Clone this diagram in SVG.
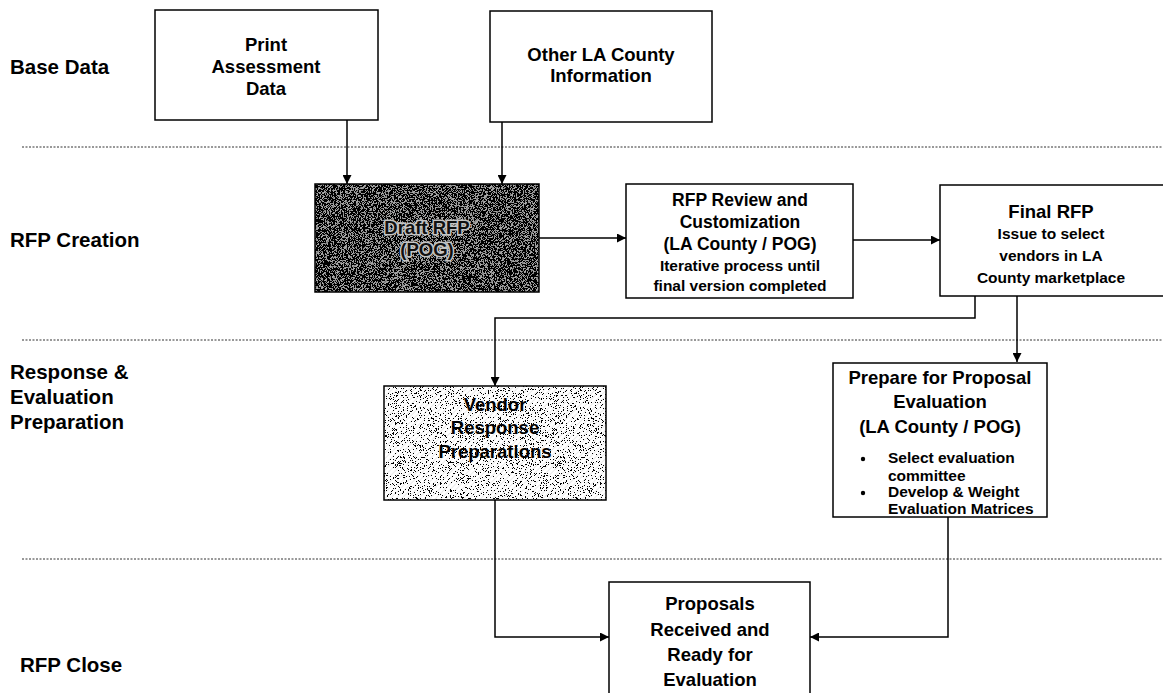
<svg xmlns="http://www.w3.org/2000/svg" width="1163" height="693" viewBox="0 0 1163 693">
<style>
  .box { fill: #ffffff; stroke: #000; stroke-width: 1.5; }
  .t { font-family: "Liberation Sans", Arial, sans-serif; font-weight: bold; fill: #000; text-anchor: middle; }
  .s { text-anchor: start; }
  .lbl { font-family: "Liberation Sans", Arial, sans-serif; font-weight: bold; fill: #000; font-size: 20.5px; }
  .f18 { font-size: 18.5px; }
  .f17 { font-size: 17.5px; }
  .f15 { font-size: 15.5px; }
  .sep { stroke: #333; stroke-width: 1; stroke-dasharray: 2 1.5; fill: none; }
  .con { stroke: #000; stroke-width: 1.5; fill: none; }
  .halo { stroke: #c4c4c4; stroke-width: 3; paint-order: stroke; fill: #111; }
</style>
<defs>
  <marker id="arr" viewBox="0 0 10 10" refX="10" refY="5" markerWidth="9" markerHeight="9" markerUnits="userSpaceOnUse" orient="auto">
    <path d="M0,0 L10,5 L0,10 z" fill="#000"/>
  </marker>
  <pattern id="diagDark" width="3" height="3" patternUnits="userSpaceOnUse" patternTransform="rotate(-45)">
    <rect width="3" height="1.3" fill="#000" opacity="0.35"/>
  </pattern>
  <pattern id="diagLight" width="4" height="4" patternUnits="userSpaceOnUse" patternTransform="rotate(-45)">
    <rect width="4" height="1" fill="#000" opacity="0.08"/>
  </pattern>
  <filter id="speckDark" x="0" y="0" width="1" height="1" color-interpolation-filters="sRGB">
    <feTurbulence type="fractalNoise" baseFrequency="1.4" numOctaves="2" seed="4" result="n"/>
    <feColorMatrix in="n" type="matrix" values="0 0 0 0 0  0 0 0 0 0  0 0 0 0 0  4 0 0 0 -1.45" result="a"/>
    <feComponentTransfer in="a" result="sp"><feFuncA type="discrete" tableValues="0 1"/></feComponentTransfer>
    <feFlood flood-color="#b0b0b0" result="bg"/>
    <feMerge result="m"><feMergeNode in="bg"/><feMergeNode in="sp"/></feMerge>
    <feComposite in="m" in2="SourceGraphic" operator="in"/>
  </filter>
  <filter id="speckLight" x="0" y="0" width="1" height="1" color-interpolation-filters="sRGB">
    <feTurbulence type="fractalNoise" baseFrequency="1.6" numOctaves="2" seed="9" result="n"/>
    <feColorMatrix in="n" type="matrix" values="0 0 0 0 0  0 0 0 0 0  0 0 0 0 0  4 0 0 0 -2.05" result="a"/>
    <feComponentTransfer in="a" result="sp"><feFuncA type="discrete" tableValues="0 1"/></feComponentTransfer>
    <feFlood flood-color="#ffffff" result="bg"/>
    <feMerge result="m"><feMergeNode in="bg"/><feMergeNode in="sp"/></feMerge>
    <feComposite in="m" in2="SourceGraphic" operator="in"/>
  </filter>
</defs>

<rect width="1163" height="693" fill="#fff"/>

<!-- swimlane separators -->
<g id="separators">
  <line class="sep" x1="22" y1="147" x2="1163" y2="147"/>
  <line class="sep" x1="22" y1="340" x2="1163" y2="340"/>
  <line class="sep" x1="22" y1="559" x2="1163" y2="559"/>
</g>

<!-- lane labels -->
<g id="lane-labels">
  <text class="lbl" x="10" y="74">Base Data</text>
  <text class="lbl" x="10" y="247">RFP Creation</text>
  <text class="lbl" x="10" y="379">Response &amp;</text>
  <text class="lbl" x="10" y="404">Evaluation</text>
  <text class="lbl" x="10" y="429">Preparation</text>
  <text class="lbl" x="20" y="672">RFP Close</text>
</g>

<g id="connectors">
  <line class="con" x1="347" y1="120" x2="347" y2="184" marker-end="url(#arr)"/>
  <line class="con" x1="502" y1="122" x2="502" y2="184" marker-end="url(#arr)"/>
  <line class="con" x1="539" y1="238" x2="626" y2="238" marker-end="url(#arr)"/>
  <line class="con" x1="853" y1="240" x2="940" y2="240" marker-end="url(#arr)"/>
  <polyline class="con" points="975,296 975,318 495,318 495,386" marker-end="url(#arr)"/>
  <line class="con" x1="1017" y1="296" x2="1017" y2="362" marker-end="url(#arr)"/>
  <polyline class="con" points="495,500 495,637 609,637" marker-end="url(#arr)"/>
  <polyline class="con" points="948,517 948,637 810,637" marker-end="url(#arr)"/>
</g>

<g id="print-assessment">
  <rect class="box" x="155" y="10" width="223" height="110"/>
  <text class="t f18" x="266" y="51">Print</text>
  <text class="t f18" x="266" y="73">Assessment</text>
  <text class="t f18" x="266" y="95">Data</text>
</g>

<g id="other-la">
  <rect class="box" x="490" y="11" width="222" height="111"/>
  <text class="t f18" x="601" y="61">Other LA County</text>
  <text class="t f18" x="601" y="82">Information</text>
</g>

<g id="draft-rfp">
  <rect x="315" y="184" width="224" height="108" fill="#fff" filter="url(#speckDark)"/>
  <rect x="315" y="184" width="224" height="108" fill="url(#diagDark)"/>
  <rect x="315" y="184" width="224" height="108" fill="none" stroke="#000" stroke-width="1.5"/>
  <text class="t f18 halo" x="427" y="234">Draft RFP</text>
  <text class="t f18 halo" x="427" y="256">(POG)</text>
</g>

<g id="rfp-review">
  <rect class="box" x="626" y="184" width="227" height="114"/>
  <text class="t f17" x="740" y="206">RFP Review and</text>
  <text class="t f17" x="740" y="228">Customization</text>
  <text class="t f17" x="740" y="250">(LA County / POG)</text>
  <text class="t f15" x="740" y="271">Iterative process until</text>
  <text class="t f15" x="740" y="291">final version completed</text>
</g>

<g id="final-rfp">
  <rect class="box" x="940" y="185" width="230" height="111"/>
  <text class="t f18" x="1051" y="218">Final RFP</text>
  <text class="t f15" x="1051" y="239">Issue to select</text>
  <text class="t f15" x="1051" y="261">vendors in LA</text>
  <text class="t f15" x="1051" y="283">County marketplace</text>
</g>

<g id="vendor-response">
  <rect x="384" y="386" width="222" height="114" fill="#fff" filter="url(#speckLight)"/>
  <rect x="384" y="386" width="222" height="114" fill="url(#diagLight)"/>
  <rect x="384" y="386" width="222" height="114" fill="none" stroke="#000" stroke-width="1.5"/>
  <text class="t f18" x="495" y="411">Vendor</text>
  <text class="t f18" x="495" y="434">Response</text>
  <text class="t f18" x="495" y="458">Preparations</text>
</g>

<g id="prepare-evaluation">
  <rect class="box" x="833" y="363" width="214" height="154"/>
  <text class="t f18" x="940" y="384">Prepare for Proposal</text>
  <text class="t f18" x="940" y="408">Evaluation</text>
  <text class="t f18" x="940" y="433">(LA County / POG)</text>
  <circle cx="863" cy="459" r="2.2" fill="#000"/>
  <text class="t f15 s" x="888" y="463">Select evaluation</text>
  <text class="t f15 s" x="888" y="481">committee</text>
  <circle cx="863" cy="493" r="2.2" fill="#000"/>
  <text class="t f15 s" x="888" y="497">Develop &amp; Weight</text>
  <text class="t f15 s" x="888" y="514">Evaluation Matrices</text>
</g>

<g id="proposals-received">
  <rect class="box" x="609" y="582" width="201" height="120"/>
  <text class="t f18" x="710" y="610">Proposals</text>
  <text class="t f18" x="710" y="636">Received and</text>
  <text class="t f18" x="710" y="661">Ready for</text>
  <text class="t f18" x="710" y="686">Evaluation</text>
</g>
</svg>
